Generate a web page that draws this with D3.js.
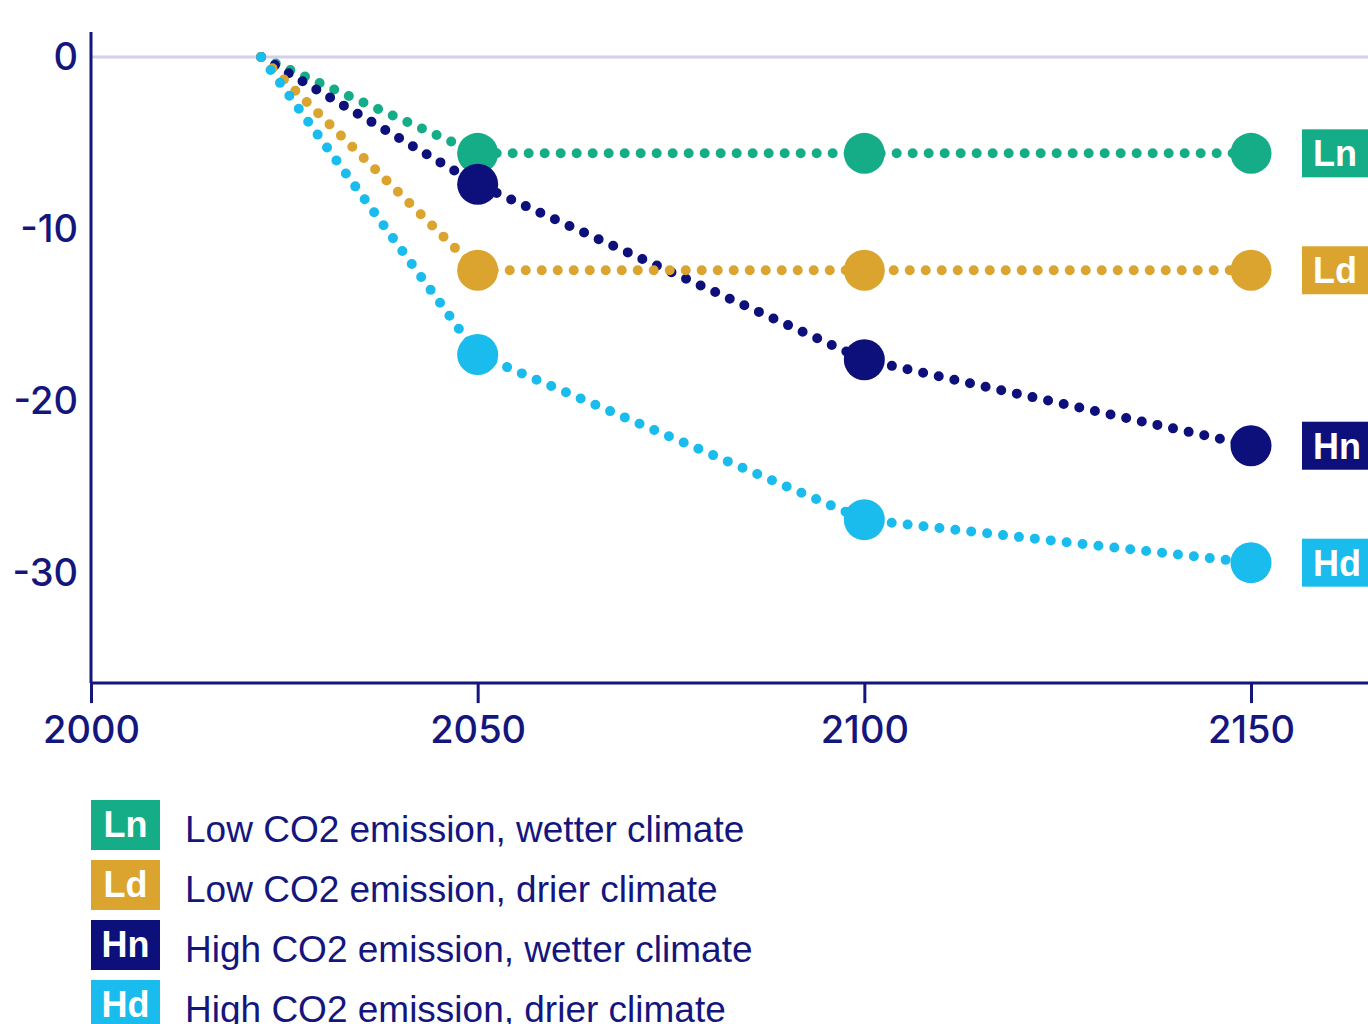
<!DOCTYPE html>
<html>
<head>
<meta charset="utf-8">
<script src="https://cdn.jsdelivr.net/npm/d3@7"></script>
<style>
  html, body { margin: 0; padding: 0; background: #ffffff; }
  svg { display: block; }
</style>
</head>
<body>
<svg id="chart" width="1368" height="1024"></svg>
<script>
// Scenario data: change relative to today, by year
const years = [2022, 2050, 2100, 2150];
const seriesKeys = ["Ln", "Hn", "Ld", "Hd"];
const lnValues = [0, -5.6, -5.6, -5.6];
const ldValues = [0, -12.4, -12.4, -12.4];
const hnValues = [0, -7.4, -17.6, -22.6];
const hdValues = [0, -17.3, -26.9, -29.4];
const xTicks = [2000, 2050, 2100, 2150];
const yTicks = [0, -10, -20, -30];
const legendKeys = ["Ln", "Ld", "Hn", "Hd"];
const legendLabels = [
  "Low CO2 emission, wetter climate",
  "Low CO2 emission, drier climate",
  "High CO2 emission, wetter climate",
  "High CO2 emission, drier climate"
];

const colors = { Ln: "#15ad88", Ld: "#dba42f", Hn: "#0d0f7b", Hd: "#19bcec" };
const valuesByKey = { Ln: lnValues, Ld: ldValues, Hn: hnValues, Hd: hdValues };
const navy = "#14167d";

const svg = d3.select("#chart");

const x = d3.scaleLinear().domain([2000, 2165]).range([91, 1367]);
const y = d3.scaleLinear().domain([0, -30]).range([57, 573]);
const yBottom = -36.4;
const yTop = 1.45;

// zero reference line
svg.append("line")
  .attr("x1", x(2000)).attr("x2", 1368)
  .attr("y1", y(0)).attr("y2", y(0))
  .attr("stroke", "#d3d0ea").attr("stroke-width", 3);

const tickFont = sel => sel
  .attr("fill", navy)
  .style("font-family", "Inter, 'Noto Sans', sans-serif")
  .style("font-weight", "500")
  .style("font-size", "38px");

// x axis
const xAxis = svg.append("g")
  .attr("transform", `translate(0,${y(yBottom)})`)
  .call(d3.axisBottom(x).tickValues(xTicks).tickFormat(d3.format("d")).tickSize(20).tickPadding(13));
xAxis.select(".domain").attr("stroke", navy).attr("stroke-width", 3).attr("d", `M${x(2000)},0H1368`);
xAxis.selectAll(".tick line").attr("stroke", navy).attr("stroke-width", 3);
xAxis.selectAll(".tick text").call(tickFont);

// y axis (plain hyphen for negatives)
const yAxis = svg.append("g")
  .attr("transform", `translate(${x(2000)},0)`)
  .call(d3.axisLeft(y).tickValues(yTicks).tickFormat(d => String(d)).tickSize(0).tickPadding(13));
yAxis.select(".domain").attr("stroke", navy).attr("stroke-width", 3)
  .attr("d", `M0,${y(yTop)}V${y(yBottom)}`);
yAxis.selectAll(".tick text").call(tickFont);

// scenario lines and markers
const line = d3.line().x((d, i) => x(years[i])).y(d => y(d));

seriesKeys.forEach(key => {
  const vals = valuesByKey[key];
  const g = svg.append("g").attr("class", "series-" + key);
  g.append("path")
    .datum(vals)
    .attr("d", line)
    .attr("fill", "none")
    .attr("stroke", colors[key])
    .attr("stroke-width", 10)
    .attr("stroke-linecap", "round")
    .attr("stroke-dasharray", "0 16");
  g.selectAll("circle")
    .data(vals.slice(1))
    .join("circle")
    .attr("cx", (d, i) => x(years[i + 1]))
    .attr("cy", d => y(d))
    .attr("r", 20.5)
    .attr("fill", colors[key]);
});

// end-of-line tags
legendKeys.forEach(key => {
  const vals = valuesByKey[key];
  const last = vals[vals.length - 1];
  const g = svg.append("g").attr("transform", `translate(1302,${y(last)})`);
  g.append("rect")
    .attr("x", 0).attr("y", -24).attr("width", 80).attr("height", 48)
    .attr("fill", colors[key]);
  g.append("text")
    .attr("x", 11).attr("y", 13)
    .attr("fill", "#ffffff")
    .style("font-family", "'Liberation Sans', Arial, sans-serif")
    .style("font-weight", "700")
    .style("font-size", "36px")
    .text(key);
});

// legend
const legend = svg.append("g").attr("transform", "translate(91,800)");
legendKeys.forEach((key, i) => {
  const g = legend.append("g").attr("transform", `translate(0,${i * 60})`);
  g.append("rect")
    .attr("width", 69).attr("height", 50)
    .attr("fill", colors[key]);
  g.append("text")
    .attr("x", 34.5).attr("y", 37)
    .attr("text-anchor", "middle")
    .attr("fill", "#ffffff")
    .style("font-family", "'Liberation Sans', Arial, sans-serif")
    .style("font-weight", "700")
    .style("font-size", "36px")
    .text(key);
  g.append("text")
    .attr("x", 94).attr("y", 42)
    .attr("fill", navy)
    .style("font-family", "'Liberation Sans', Arial, sans-serif")
    .style("font-size", "37px")
    .text(legendLabels[i]);
});
</script>
</body>
</html>
